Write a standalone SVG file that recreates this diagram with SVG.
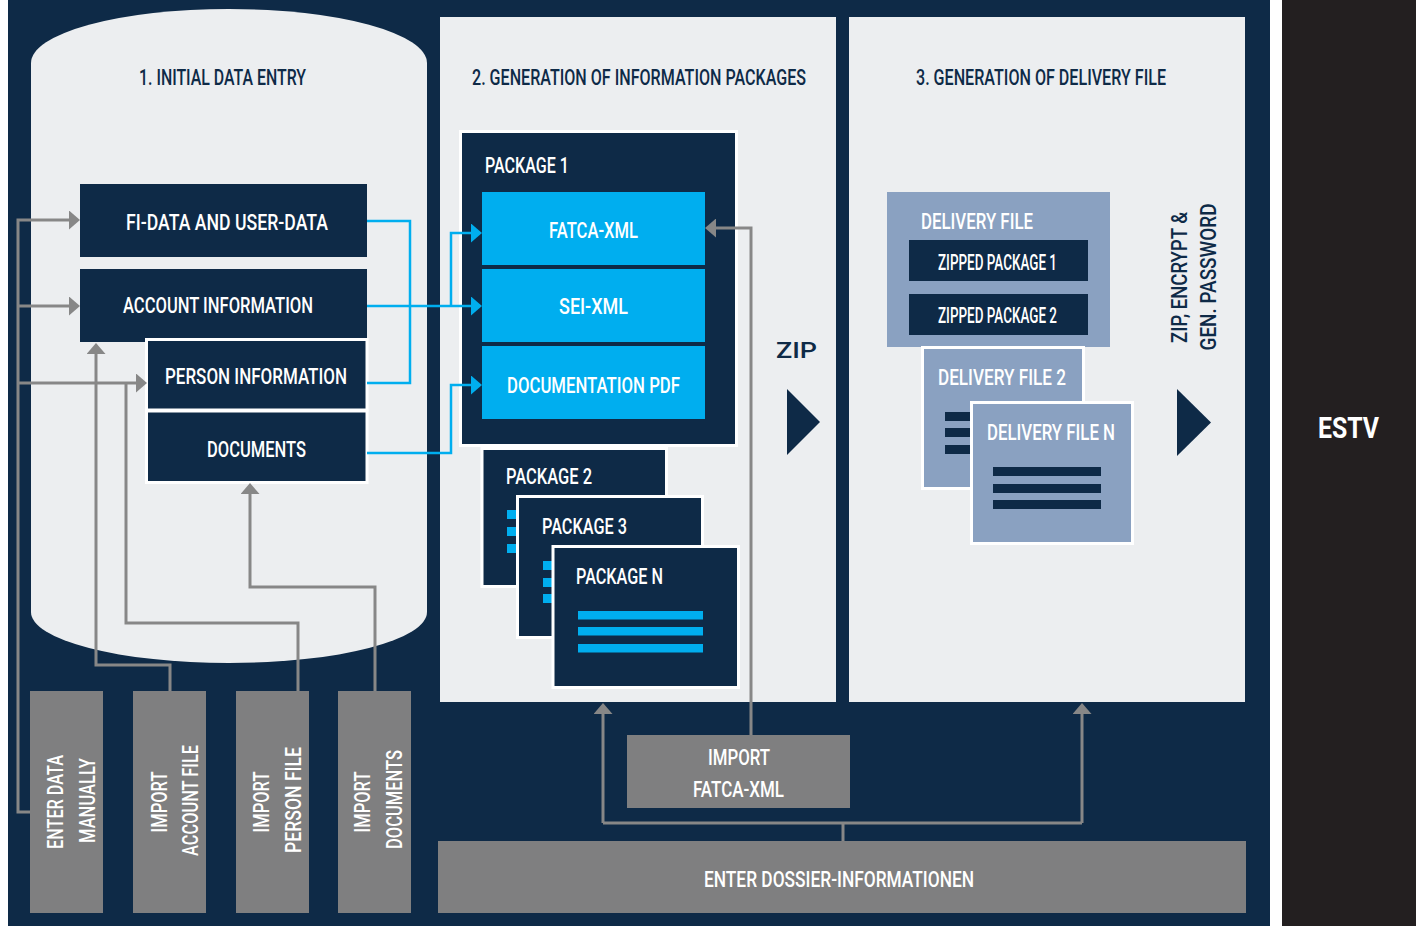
<svg xmlns="http://www.w3.org/2000/svg" width="1423" height="926" viewBox="0 0 1423 926">
<style>
.t{font-family:Roboto,"Liberation Sans",sans-serif;font-weight:500;fill:#ffffff;font-size:22px}
.d{fill:#0e2a47}
.h{font-family:Roboto,"Liberation Sans",sans-serif;font-weight:500;fill:#0e2a47;font-size:22px}
.blue{fill:#00aeef}
.steel{fill:#8aa1c1}
.gbox{fill:#7f7f80}
.wb{stroke:#ffffff;stroke-width:3}
.gl{fill:none;stroke:#878787;stroke-width:3}
.bl{fill:none;stroke:#00aeef;stroke-width:2.5}
</style>
<defs>
<marker id="ag" markerUnits="userSpaceOnUse" markerWidth="11" markerHeight="19" refX="6" refY="9.5" orient="auto"><path d="M0,0 L11,9.5 L0,19 Z" fill="#878787"/></marker>
<marker id="ab" markerUnits="userSpaceOnUse" markerWidth="11" markerHeight="19" refX="6" refY="9.5" orient="auto"><path d="M0,0 L11,9.5 L0,19 Z" fill="#00aeef"/></marker>
</defs>
<rect width="1423" height="926" fill="#ffffff"/>
<rect x="8" y="0" width="1262" height="926" class="d"/>
<rect x="1282" y="0" width="134" height="926" fill="#231f20"/>
<text x="1318" y="438" font-family="Roboto,'Liberation Sans',sans-serif" font-weight="700" font-size="29" fill="#ffffff" textLength="61" lengthAdjust="spacingAndGlyphs">ESTV</text>

<g id="stage1">
<path d="M31,63 A198,54 0 0 1 427,63 V612 A198,51 0 0 1 31,612 Z" fill="#eceef0"/>
<text class="h" x="139" y="85" textLength="167" lengthAdjust="spacingAndGlyphs">1. INITIAL DATA ENTRY</text>
</g>
<g id="stage2">
<rect x="440" y="17" width="396" height="685" fill="#eceef0"/>
<text class="h" x="472" y="85" textLength="334" lengthAdjust="spacingAndGlyphs">2. GENERATION OF INFORMATION PACKAGES</text>
<text class="h" x="776" y="358" font-size="29" textLength="41" lengthAdjust="spacingAndGlyphs">ZIP</text>
<path d="M787,389 L820,422 L787,455 Z" class="d"/>
</g>
<g id="stage3">
<rect x="849" y="17" width="396" height="685" fill="#eceef0"/>
<text class="h" x="916" y="85" textLength="250" lengthAdjust="spacingAndGlyphs">3. GENERATION OF DELIVERY FILE</text>
<text class="h" font-size="23" text-anchor="middle" transform="translate(1187,277.5) rotate(-90)" textLength="131" lengthAdjust="spacingAndGlyphs">ZIP, ENCRYPT &amp;</text>
<text class="h" font-size="23" text-anchor="middle" transform="translate(1216,277) rotate(-90)" textLength="147" lengthAdjust="spacingAndGlyphs">GEN. PASSWORD</text>
<path d="M1177,389 L1211,422.5 L1177,456 Z" class="d"/>
</g>

<g id="fi-data">
<rect x="80" y="184" width="287" height="73" class="d"/>
<text class="t" x="126" y="230" textLength="202" lengthAdjust="spacingAndGlyphs">FI-DATA AND USER-DATA</text>
</g>
<g id="account-information">
<rect x="80" y="269" width="287" height="73" class="d"/>
<text class="t" x="123" y="313" textLength="190" lengthAdjust="spacingAndGlyphs">ACCOUNT INFORMATION</text>
</g>
<g id="person-information">
<rect x="146.5" y="339.5" width="220.5" height="70.5" class="d wb"/>
<text class="t" x="165" y="384" textLength="182" lengthAdjust="spacingAndGlyphs">PERSON INFORMATION</text>
</g>
<g id="documents">
<rect x="146.5" y="411" width="220.5" height="71.5" class="d wb"/>
<text class="t" x="207" y="457" textLength="99" lengthAdjust="spacingAndGlyphs">DOCUMENTS</text>
</g>

<g id="package-1">
<rect x="460.5" y="131.5" width="276" height="314" class="d wb"/>
<text class="t" x="485" y="173" textLength="84" lengthAdjust="spacingAndGlyphs">PACKAGE 1</text>
</g>
<g id="fatca-xml">
<rect x="482" y="192" width="223" height="73" class="blue"/>
<text class="t" x="549" y="238" textLength="89" lengthAdjust="spacingAndGlyphs">FATCA-XML</text>
</g>
<g id="sei-xml">
<rect x="482" y="269" width="223" height="73" class="blue"/>
<text class="t" x="559" y="314" textLength="69" lengthAdjust="spacingAndGlyphs">SEI-XML</text>
</g>
<g id="documentation-pdf">
<rect x="482" y="346" width="223" height="73" class="blue"/>
<text class="t" x="507" y="393" textLength="173" lengthAdjust="spacingAndGlyphs">DOCUMENTATION PDF</text>
</g>
<g id="package-2">
<rect x="482" y="448.5" width="184.5" height="138" class="d wb"/>
<text class="t" x="506" y="484" textLength="86" lengthAdjust="spacingAndGlyphs">PACKAGE 2</text>
<rect x="507" y="510" width="20" height="9" class="blue"/>
<rect x="507" y="527" width="20" height="9" class="blue"/>
<rect x="507" y="544" width="20" height="9" class="blue"/>
</g>
<g id="package-3">
<rect x="517.5" y="496.5" width="185" height="141" class="d wb"/>
<text class="t" x="542" y="534" textLength="85" lengthAdjust="spacingAndGlyphs">PACKAGE 3</text>
<rect x="543" y="561" width="20" height="9" class="blue"/>
<rect x="543" y="578" width="20" height="9" class="blue"/>
<rect x="543" y="594" width="20" height="9" class="blue"/>
</g>
<g id="package-n">
<rect x="553" y="546.5" width="185.5" height="141" class="d wb"/>
<text class="t" x="576" y="584" textLength="87" lengthAdjust="spacingAndGlyphs">PACKAGE N</text>
<rect x="578" y="611" width="125" height="8.5" class="blue"/>
<rect x="578" y="627" width="125" height="8.5" class="blue"/>
<rect x="578" y="644" width="125" height="8.5" class="blue"/>
</g>

<g id="delivery-file">
<rect x="887" y="192" width="223" height="155" class="steel"/>
<text class="t" x="921" y="229" textLength="112" lengthAdjust="spacingAndGlyphs">DELIVERY FILE</text>
<rect x="909" y="240" width="179" height="41" class="d"/>
<text class="t" x="938" y="270" font-size="18" textLength="119" lengthAdjust="spacingAndGlyphs">ZIPPED PACKAGE 1</text>
<rect x="909" y="294" width="179" height="41" class="d"/>
<text class="t" x="938" y="323" font-size="18" textLength="119" lengthAdjust="spacingAndGlyphs">ZIPPED PACKAGE 2</text>
</g>
<g id="delivery-file-2">
<rect x="922.5" y="347.5" width="161" height="141" class="steel wb"/>
<text class="t" x="938" y="385" textLength="128" lengthAdjust="spacingAndGlyphs">DELIVERY FILE 2</text>
<rect x="945" y="412" width="30" height="9" class="d"/>
<rect x="945" y="428" width="30" height="9" class="d"/>
<rect x="945" y="445" width="30" height="9" class="d"/>
</g>
<g id="delivery-file-n">
<rect x="971.5" y="402.5" width="161" height="141" class="steel wb"/>
<text class="t" x="987" y="440" textLength="128" lengthAdjust="spacingAndGlyphs">DELIVERY FILE N</text>
<rect x="993" y="467" width="108" height="9" class="d"/>
<rect x="993" y="484" width="108" height="9" class="d"/>
<rect x="993" y="500" width="108" height="9" class="d"/>
</g>

<g id="enter-data-manually">
<rect x="30" y="691" width="73" height="222" class="gbox"/>
<text class="t" font-size="24" text-anchor="middle" transform="translate(63,802) rotate(-90)" textLength="94" lengthAdjust="spacingAndGlyphs">ENTER DATA</text>
<text class="t" font-size="24" text-anchor="middle" transform="translate(95,800.5) rotate(-90)" textLength="85" lengthAdjust="spacingAndGlyphs">MANUALLY</text>
</g>
<g id="import-account-file">
<rect x="133" y="691" width="73" height="222" class="gbox"/>
<text class="t" font-size="24" text-anchor="middle" transform="translate(167,802) rotate(-90)" textLength="61" lengthAdjust="spacingAndGlyphs">IMPORT</text>
<text class="t" font-size="24" text-anchor="middle" transform="translate(198,800.5) rotate(-90)" textLength="111" lengthAdjust="spacingAndGlyphs">ACCOUNT FILE</text>
</g>
<g id="import-person-file">
<rect x="236" y="691" width="73" height="222" class="gbox"/>
<text class="t" font-size="24" text-anchor="middle" transform="translate(269,802) rotate(-90)" textLength="61" lengthAdjust="spacingAndGlyphs">IMPORT</text>
<text class="t" font-size="24" text-anchor="middle" transform="translate(301,800) rotate(-90)" textLength="106" lengthAdjust="spacingAndGlyphs">PERSON FILE</text>
</g>
<g id="import-documents">
<rect x="338" y="691" width="73" height="222" class="gbox"/>
<text class="t" font-size="24" text-anchor="middle" transform="translate(370,802) rotate(-90)" textLength="61" lengthAdjust="spacingAndGlyphs">IMPORT</text>
<text class="t" font-size="24" text-anchor="middle" transform="translate(402,799.5) rotate(-90)" textLength="99" lengthAdjust="spacingAndGlyphs">DOCUMENTS</text>
</g>
<g id="import-fatca-xml">
<rect x="627" y="735" width="223" height="73" class="gbox"/>
<text class="t" x="708" y="765" textLength="62" lengthAdjust="spacingAndGlyphs">IMPORT</text>
<text class="t" x="693" y="797" textLength="91" lengthAdjust="spacingAndGlyphs">FATCA-XML</text>
</g>
<g id="enter-dossier">
<rect x="438" y="841" width="808" height="72" class="gbox"/>
<text class="t" x="704" y="887" font-size="20.5" textLength="270" lengthAdjust="spacingAndGlyphs">ENTER DOSSIER-INFORMATIONEN</text>
</g>

<g id="connectors">
<path class="bl" d="M367,221 H410 V383 H367"/>
<path class="bl" d="M367,306 H477" marker-end="url(#ab)"/>
<path class="bl" d="M451,306 V233 H477" marker-end="url(#ab)"/>
<path class="bl" d="M367,453 H451 V385 H477" marker-end="url(#ab)"/>
<path class="gl" d="M30,812 H18 V220 H75" marker-end="url(#ag)"/>
<path class="gl" d="M18,306 H75" marker-end="url(#ag)"/>
<path class="gl" d="M18,383 H142" marker-end="url(#ag)"/>
<path class="gl" d="M170,691 V665 H96 V348" marker-end="url(#ag)"/>
<path class="gl" d="M298,691 V623 H126 V383"/>
<path class="gl" d="M375,691 V587 H250 V488" marker-end="url(#ag)"/>
<path class="gl" d="M751,735 V228 H710" marker-end="url(#ag)"/>
<path class="gl" d="M843,841 V823"/>
<path class="gl" d="M603,823 H1082"/>
<path class="gl" d="M603,823 V708" marker-end="url(#ag)"/>
<path class="gl" d="M1082,823 V708" marker-end="url(#ag)"/>
</g>
</svg>
